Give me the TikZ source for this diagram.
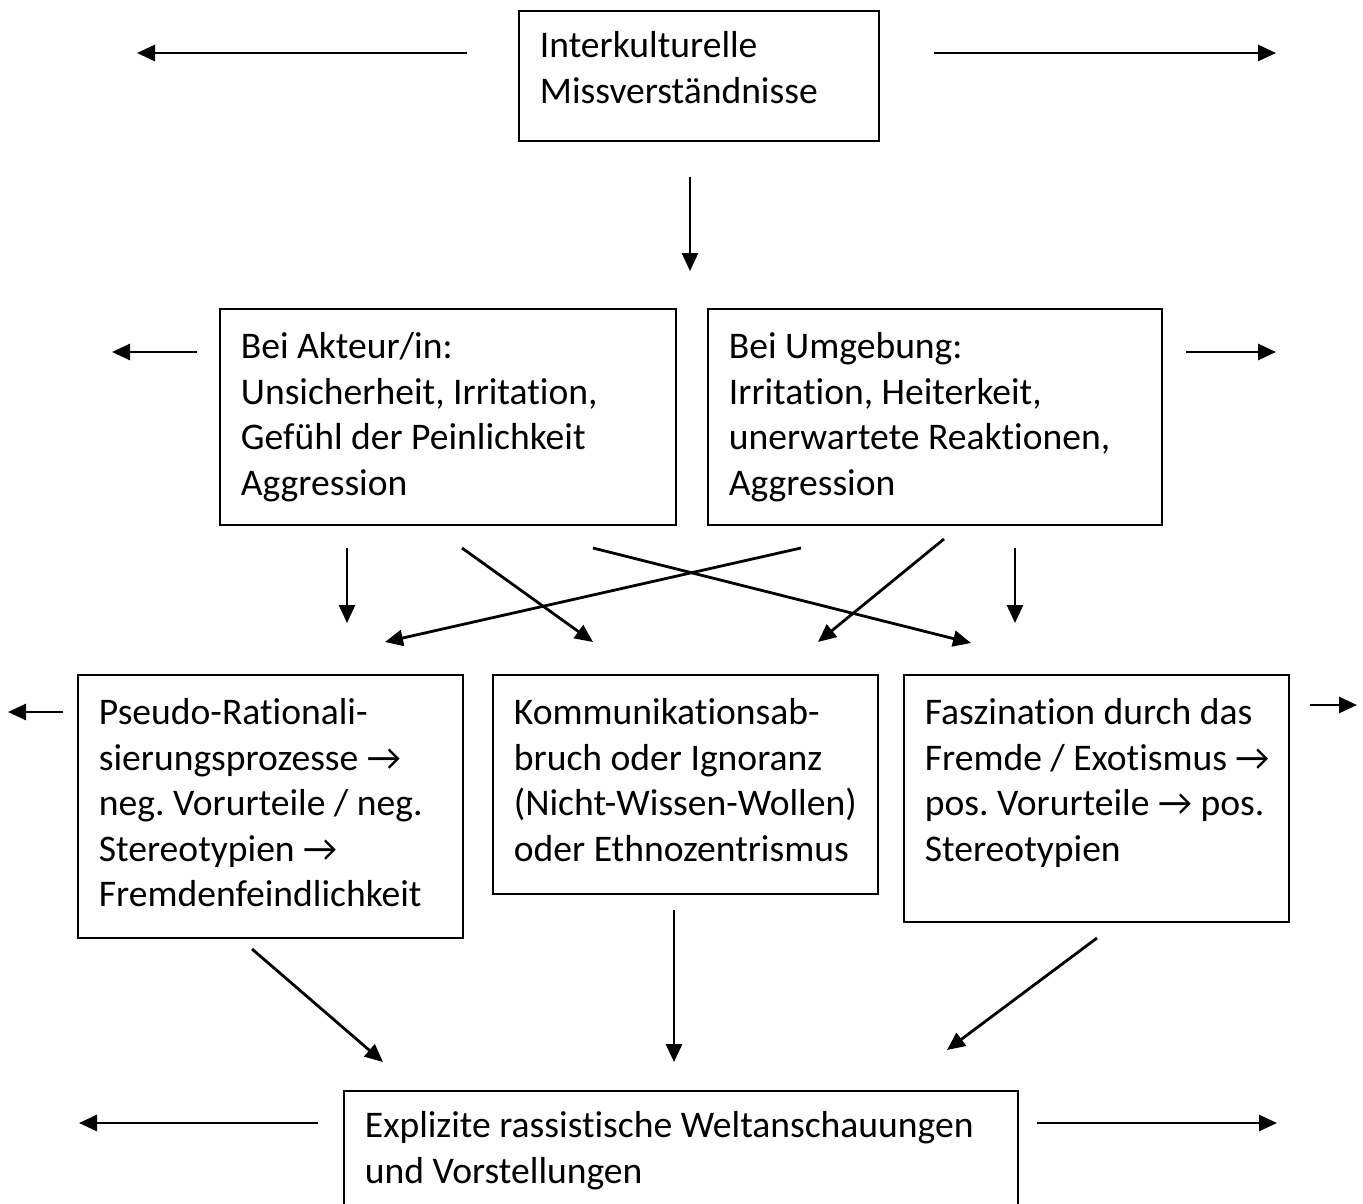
\documentclass[tikz,border=0pt]{standalone}
\usepackage{fontspec}
\setmainfont{Carlito}[Ligatures={TeX,NoCommon}]
\usetikzlibrary{arrows.meta}
\begin{document}
\begin{tikzpicture}[x=1pt,y=-1pt,
  box/.style={draw, line width=1.8pt, anchor=north west, inner xsep=21pt, inner ysep=0pt,
    text height=50pt, align=flush left,
    font=\fontsize{37.6}{45.5}\selectfont\frenchspacing,
    execute at begin node={\global\rightskip=0pt plus 1fil minus 40pt\relax}},
  arr/.style={line width=2.8pt, -{Triangle[length=18pt,width=16pt]}}]
\useasboundingbox (0,0) rectangle (1363,1204);
\fill[white] (0,0) rectangle (1363,1204);
% boxes
\node[box, text width=318pt, text height=47pt, text depth=83pt] (b1) at (518,10) {Interkulturelle\\Missverständnisse};
\node[box, text width=414pt, text depth=166pt] (b2) at (219,308) {Bei Akteur/in:\\Unsicherheit, Irritation,\\Gefühl der Peinlichkeit\\Aggression};
\node[box, text width=412pt, text depth=166pt] (b3) at (707,308) {Bei Umgebung:\\Irritation, Heiterkeit,\\unerwartete Reaktionen,\\Aggression};
\node[box, text width=343pt, text depth=213pt] (b4) at (77,674) {Pseudo-Rationali-\\sierungsprozesse →\\neg. Vorurteile / neg.\\Stereotypien →\\Fremdenfeindlichkeit};
\node[box, text width=343pt, text depth=169pt] (b5) at (492,674) {Kommunikationsab-\\bruch oder Ignoranz\\(Nicht-Wissen-Wollen)\\oder Ethnozentrismus};
\node[box, text width=343pt, text depth=197pt] (b6) at (903,674) {Faszination durch das\\Fremde / Exotismus →\\pos. Vorurteile → pos.\\Stereotypien};
\node[box, text width=632pt, text height=47pt, text depth=78pt] (b7) at (343,1090) {Explizite rassistische Weltanschauungen\\und Vorstellungen};
% arrow end points
\coordinate (a1s) at (467,53);   \coordinate (a1e) at (137,53);
\coordinate (a2s) at (934,53);   \coordinate (a2e) at (1276,53);
\coordinate (a3s) at (690,177);  \coordinate (a3e) at (690,271);
\coordinate (a4s) at (197,352);  \coordinate (a4e) at (112,352);
\coordinate (a5s) at (1186,352); \coordinate (a5e) at (1276,352);
\coordinate (a6s) at (347,548);  \coordinate (a6e) at (347,623);
\coordinate (a7s) at (462,548);  \coordinate (a7e) at (593,642);
\coordinate (a8s) at (593,548);  \coordinate (a8e) at (971,643);
\coordinate (a9s) at (801,548);  \coordinate (a9e) at (385,642);
\coordinate (a10s) at (944,539); \coordinate (a10e) at (818,642);
\coordinate (a11s) at (1015,548);\coordinate (a11e) at (1015,623);
\coordinate (a12s) at (63,712);  \coordinate (a12e) at (8,712);
\coordinate (a13s) at (1310,705);\coordinate (a13e) at (1357,705);
\coordinate (a14s) at (252,949); \coordinate (a14e) at (383,1062);
\coordinate (a15s) at (674,910); \coordinate (a15e) at (674,1062);
\coordinate (a16s) at (1097,938);\coordinate (a16e) at (947,1050);
\coordinate (a17s) at (318,1123);\coordinate (a17e) at (79,1123);
\coordinate (a18s) at (1037,1123);\coordinate (a18e) at (1277,1123);
\foreach \i in {1,...,18} {\draw[arr] (a\i s) -- (a\i e);}
\end{tikzpicture}
\end{document}
